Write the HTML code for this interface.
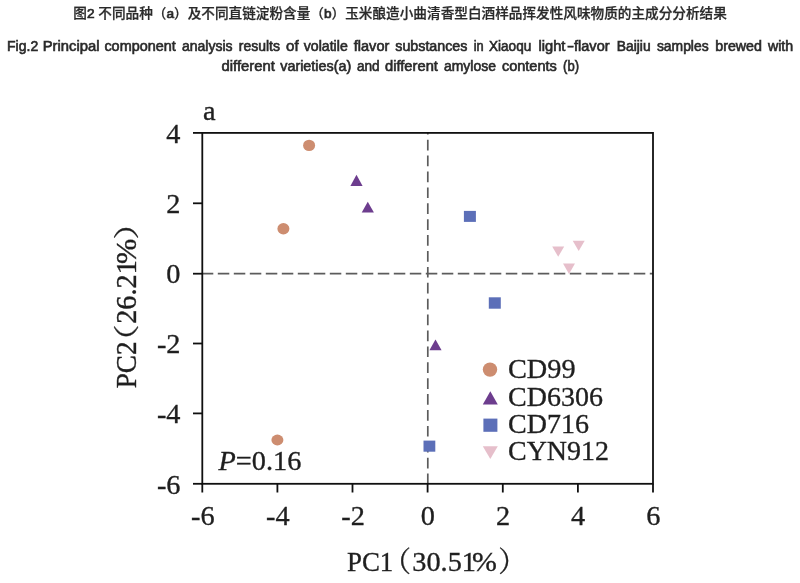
<!DOCTYPE html>
<html lang="zh"><head><meta charset="utf-8"><title>Fig.2 PCA</title>
<style>html,body{margin:0;padding:0;background:#fff}body{width:800px;height:583px;overflow:hidden}svg{display:block}.s{font-family:"Liberation Serif", "Noto Serif CJK SC", serif;font-size:28.3px;fill:#1f1f1f;stroke:#1f1f1f;stroke-width:0.35px}.h{font-family:"Liberation Sans", "Noto Sans CJK SC", sans-serif;font-size:13.33px;fill:#2a2a2a}</style></head><body>
<svg width="800" height="583" viewBox="0 0 800 583">
<rect width="800" height="583" fill="#ffffff"/>
<text class="h" x="73.3" y="18.0" font-weight="500" stroke="#2a2a2a" stroke-width="0.25" textLength="653.6" lengthAdjust="spacingAndGlyphs">图<tspan stroke-width="0.7">2</tspan> 不同品种（<tspan stroke-width="0.7">a</tspan>）及不同直链淀粉含量（<tspan stroke-width="0.7">b</tspan>）玉米酿造小曲清香型白酒样品挥发性风味物质的主成分分析结果</text>
<g class="h" style="font-size:13.8px" stroke="#2a2a2a" stroke-width="0.6">
<text x="7.09" y="51.2" textLength="31.10" lengthAdjust="spacingAndGlyphs">Fig.2</text>
<text x="42.68" y="51.2" textLength="56.79" lengthAdjust="spacingAndGlyphs">Principal</text>
<text x="104.40" y="51.2" textLength="71.43" lengthAdjust="spacingAndGlyphs">component</text>
<text x="181.90" y="51.2" textLength="50.75" lengthAdjust="spacingAndGlyphs">analysis</text>
<text x="238.75" y="51.2" textLength="41.15" lengthAdjust="spacingAndGlyphs">results</text>
<text x="286.00" y="51.2" textLength="12.57" lengthAdjust="spacingAndGlyphs">of</text>
<text x="303.75" y="51.2" textLength="44.02" lengthAdjust="spacingAndGlyphs">volatile</text>
<text x="353.75" y="51.2" textLength="35.57" lengthAdjust="spacingAndGlyphs">flavor</text>
<text x="395.25" y="51.2" textLength="72.15" lengthAdjust="spacingAndGlyphs">substances</text>
<text x="473.75" y="51.2" textLength="9.98" lengthAdjust="spacingAndGlyphs">in</text>
<text x="489.00" y="51.2" textLength="42.26" lengthAdjust="spacingAndGlyphs">Xiaoqu</text>
<text x="538.50" y="51.2" textLength="26.92" lengthAdjust="spacingAndGlyphs">light</text>
<text x="566.90" y="51.2" textLength="7.12" lengthAdjust="spacingAndGlyphs">-</text>
<text x="574.00" y="51.2" textLength="35.57" lengthAdjust="spacingAndGlyphs">flavor</text>
<text x="616.74" y="51.2" textLength="33.93" lengthAdjust="spacingAndGlyphs">Baijiu</text>
<text x="656.90" y="51.2" textLength="51.75" lengthAdjust="spacingAndGlyphs">samples</text>
<text x="715.25" y="51.2" textLength="46.69" lengthAdjust="spacingAndGlyphs">brewed</text>
<text x="767.93" y="51.2" textLength="25.26" lengthAdjust="spacingAndGlyphs">with</text>
</g>
<g class="h" style="font-size:13.8px" stroke="#2a2a2a" stroke-width="0.6">
<text x="221.50" y="71.4" textLength="53.32" lengthAdjust="spacingAndGlyphs">different</text>
<text x="280.25" y="71.4" textLength="70.97" lengthAdjust="spacingAndGlyphs">varieties(a)</text>
<text x="356.90" y="71.4" textLength="22.77" lengthAdjust="spacingAndGlyphs">and</text>
<text x="385.00" y="71.4" textLength="52.92" lengthAdjust="spacingAndGlyphs">different</text>
<text x="444.00" y="71.4" textLength="51.92" lengthAdjust="spacingAndGlyphs">amylose</text>
<text x="501.90" y="71.4" textLength="54.89" lengthAdjust="spacingAndGlyphs">contents</text>
<text x="563.10" y="71.4" textLength="15.96" lengthAdjust="spacingAndGlyphs">(b)</text>
</g>
<g stroke="#5c5c5c" stroke-width="1.7" fill="none">
<line x1="202.3" y1="273.7" x2="653.0" y2="273.7" stroke-dasharray="11.5 4.5" stroke-dashoffset="0.5"/>
<line x1="427.8" y1="132.9" x2="427.8" y2="483.8" stroke-dasharray="10.7 5.2" stroke-dashoffset="-6.8"/>
</g>
<rect x="202.3" y="132.9" width="450.7" height="350.9" fill="none" stroke="#101010" stroke-width="1.8"/>
<g stroke="#101010" stroke-width="1.8">
<line x1="202.3" y1="483.8" x2="202.3" y2="492.5"/>
<line x1="277.4" y1="483.8" x2="277.4" y2="492.5"/>
<line x1="352.5" y1="483.8" x2="352.5" y2="492.5"/>
<line x1="427.6" y1="483.8" x2="427.6" y2="492.5"/>
<line x1="502.8" y1="483.8" x2="502.8" y2="492.5"/>
<line x1="577.9" y1="483.8" x2="577.9" y2="492.5"/>
<line x1="653.0" y1="483.8" x2="653.0" y2="492.5"/>
<line x1="193.0" y1="483.8" x2="202.3" y2="483.8"/>
<line x1="193.0" y1="413.4" x2="202.3" y2="413.4"/>
<line x1="193.0" y1="343.5" x2="202.3" y2="343.5"/>
<line x1="193.0" y1="273.7" x2="202.3" y2="273.7"/>
<line x1="193.0" y1="203.3" x2="202.3" y2="203.3"/>
<line x1="193.0" y1="132.9" x2="202.3" y2="132.9"/>
</g>
<g class="s" text-anchor="middle">
<text x="202.8" y="525">-6</text>
<text x="277.9" y="525">-4</text>
<text x="353.0" y="525">-2</text>
<text x="427.9" y="525">0</text>
<text x="503.1" y="525">2</text>
<text x="578.2" y="525">4</text>
<text x="653.3" y="525">6</text>
</g>
<g class="s" text-anchor="end">
<text x="180.5" y="493.5">-6</text>
<text x="180.5" y="423.1">-4</text>
<text x="180.5" y="353.2">-2</text>
<text x="180.5" y="283.4">0</text>
<text x="180.5" y="213.0">2</text>
<text x="180.5" y="142.6">4</text>
</g>
<text class="s" x="203" y="119.5">a</text>
<text class="s" x="218.5" y="470"><tspan font-style="italic">P</tspan>=0.16</text>
<g class="s" transform="translate(347.0 570.8)">
<text x="0" y="0" textLength="46.3" lengthAdjust="spacingAndGlyphs">PC1</text>
<text transform="translate(35.70 0.80) scale(1.000 1.000)">（</text>
<text x="65.3" y="0">30.51</text>
<text x="125.1" y="0" textLength="24.9" lengthAdjust="spacingAndGlyphs">%</text>
<text transform="translate(151.20 0.80) scale(1.000 1.000)">）</text>
</g>
<g class="s" transform="translate(135.9 388.3) rotate(-90) scale(1 1.06)">
<text x="0" y="0" textLength="46.8" lengthAdjust="spacingAndGlyphs">PC2</text>
<text transform="translate(30.01 0.00) scale(1.200 0.858)">（</text>
<text x="64.5" y="0">26.21</text>
<text x="124.2" y="0" textLength="25.4" lengthAdjust="spacingAndGlyphs">%</text>
<text transform="translate(148.43 0.00) scale(1.200 0.858)">）</text>
</g>
<ellipse cx="309.1" cy="145.4" rx="6.0" ry="5.7" fill="#cd8d70"/>
<ellipse cx="283.4" cy="228.7" rx="6.0" ry="5.7" fill="#cd8d70"/>
<ellipse cx="277.4" cy="440.0" rx="6.0" ry="5.4" fill="#cd8d70"/>
<polygon points="356.5,174.8 350.4,186.0 362.6,186.0" fill="#6d3d8e"/>
<polygon points="367.8,201.7 361.7,212.6 373.9,212.6" fill="#6d3d8e"/>
<polygon points="435.5,339.6 429.4,350.3 441.6,350.3" fill="#6d3d8e"/>
<rect x="463.9" y="210.9" width="12.0" height="11.0" fill="#5c6fb8"/>
<rect x="488.8" y="297.3" width="12.0" height="11.4" fill="#5c6fb8"/>
<rect x="423.5" y="440.6" width="11.8" height="11.1" fill="#5c6fb8"/>
<polygon points="552.2,246.5 564.2,246.5 558.2,256.8" fill="#e6bfcb"/>
<polygon points="572.7,240.7 584.7,240.7 578.7,251.0" fill="#e6bfcb"/>
<polygon points="563.0,263.6 575.0,263.6 569.0,273.9" fill="#e6bfcb"/>
<ellipse cx="490" cy="369.6" rx="7.2" ry="7.2" fill="#cd8d70"/>
<polygon points="490.3,391.2 482.8,404.6 497.8,404.6" fill="#6d3d8e"/>
<rect x="483.4" y="418.6" width="14" height="13.2" fill="#5c6fb8"/>
<polygon points="482.8,446.2 497.8,446.2 490.3,459.1" fill="#e6bfcb"/>
<g class="s">
<text x="508" y="377.8">CD99</text>
<text x="508" y="405.9" textLength="94.9" lengthAdjust="spacingAndGlyphs">CD6306</text>
<text x="508" y="433.1" textLength="81" lengthAdjust="spacingAndGlyphs">CD716</text>
<text x="508" y="460.3" textLength="101" lengthAdjust="spacingAndGlyphs">CYN912</text>
</g>
</svg></body></html>
